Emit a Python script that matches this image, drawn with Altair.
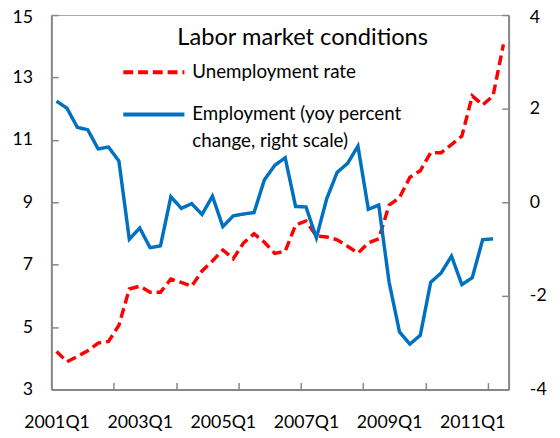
import altair as alt
import pandas as pd

quarters = [
    "2001Q1", "2001Q2", "2001Q3", "2001Q4", "2002Q1", "2002Q2", "2002Q3", "2002Q4",
    "2003Q1", "2003Q2", "2003Q3", "2003Q4", "2004Q1", "2004Q2", "2004Q3", "2004Q4",
    "2005Q1", "2005Q2", "2005Q3", "2005Q4", "2006Q1", "2006Q2", "2006Q3", "2006Q4",
    "2007Q1", "2007Q2", "2007Q3", "2007Q4", "2008Q1", "2008Q2", "2008Q3", "2008Q4",
    "2009Q1", "2009Q2", "2009Q3", "2009Q4", "2010Q1", "2010Q2", "2010Q3", "2010Q4",
    "2011Q1", "2011Q2", "2011Q3", "2011Q4",
]

unemployment = [
    4.22, 3.89, 4.06, 4.24, 4.49, 4.54, 5.06, 6.22, 6.31, 6.12, 6.12, 6.54,
    6.43, 6.31, 6.80, 7.12, 7.47, 7.19, 7.70, 7.99, 7.72, 7.36, 7.43, 8.27,
    8.40, 7.92, 7.89, 7.80, 7.59, 7.37, 7.70, 7.83, 8.91, 9.15, 9.80, 10.01,
    10.59, 10.59, 10.85, 11.12, 12.41, 12.12, 12.41, 14.06,
]

employment = [
    2.16, 2.01, 1.60, 1.55, 1.14, 1.18, 0.88, -0.79, -0.55, -0.97, -0.93, 0.12,
    -0.13, -0.03, -0.26, 0.13, -0.52, -0.29, -0.25, -0.22, 0.48, 0.79, 0.95, -0.09,
    -0.10, -0.76, 0.08, 0.64, 0.83, 1.20, -0.15, -0.06, -1.71, -2.77, -3.03, -2.84,
    -1.71, -1.51, -1.15, -1.76, -1.61, -0.80, -0.78,
]

chart_title = "Labor market conditions"
series_names = ["Unemployment rate", "Employment (yoy percent change, right scale)"]
series_colors = ["#FF0000", "#0070C0"]
label_positions = [0, 8, 16, 24, 32, 40]
tick_positions = [5.5, 11.5, 17.5, 23.5, 29.5, 35.5, 41.5]
left_ticks = [3, 5, 7, 9, 11, 13, 15]
right_ticks = [-4, -2, 0, 2, 4]

rows = []
for i, q in enumerate(quarters):
    rows.append({"idx": i, "quarter": q, "value": unemployment[i], "series": series_names[0]})
for i, v in enumerate(employment):
    rows.append({"idx": i, "quarter": quarters[i], "value": v, "series": series_names[1]})
df = pd.DataFrame(rows)

FONT = "Lato"
AX = "#868686"
W, H = 464, 380

xscale = alt.Scale(domain=[-0.5, 43.5], nice=False, zero=False)
left_scale = alt.Scale(domain=[3, 15], nice=False, zero=False)
right_scale = alt.Scale(domain=[-4, 4], nice=False, zero=False)

q_array = "[" + ",".join("'" + q + "'" for q in quarters) + "]"
x_label_expr = q_array + "[datum.value]"
hyphen_expr = "datum.value < 0 ? '-' + abs(datum.value) : '' + datum.value"

legend_label_expr = (
    "datum.label == '" + series_names[1] + "' ? "
    "['Employment (yoy percent', 'change, right scale)'] : datum.label"
)

legend = alt.Legend(
    title=None,
    orient="none",
    legendX=71,
    legendY=25,
    symbolType="stroke",
    symbolSize=3844,
    symbolStrokeWidth=4,
    labelFont=FONT,
    labelFontSize=19,
    labelColor="black",
    labelLimit=400,
    labelOffset=6,
    labelExpr=legend_label_expr,
    rowPadding=-9,
)

color = alt.Color("series:N", scale=alt.Scale(domain=series_names, range=series_colors), legend=legend)
dash = alt.StrokeDash("series:N", scale=alt.Scale(domain=series_names, range=[[10, 5], [1, 0]]), legend=legend)

base = alt.Chart(df)

red = base.transform_filter(alt.datum.series == series_names[0]).mark_line(
    strokeWidth=3.5, strokeCap="butt"
).encode(
    x=alt.X("idx:Q", scale=xscale, axis=alt.Axis(
        orient="bottom", values=label_positions, labelExpr=x_label_expr, ticks=False,
        grid=False, domainColor=AX, domainWidth=2, labelPadding=25, title=None)),
    y=alt.Y("value:Q", scale=left_scale, axis=alt.Axis(
        orient="left", values=left_ticks, ticks=False, grid=False,
        domainColor=AX, domainWidth=2, labelPadding=19, title=None,
        labelOffset={"condition": {"test": "datum.value == 15", "value": 3}, "value": 0})),
    color=color,
    strokeDash=dash,
)

blue = base.transform_filter(alt.datum.series == series_names[1]).mark_line(
    strokeWidth=3.5
).encode(
    x=alt.X("idx:Q", scale=xscale, axis=None),
    y=alt.Y("value:Q", scale=right_scale, axis=alt.Axis(
        orient="right", values=right_ticks, ticks=False, grid=False,
        domainColor=AX, domainWidth=2, labelPadding=21, title=None,
        labelExpr=hyphen_expr,
        labelOffset={"condition": {"test": "datum.value == 4", "value": 3}, "value": 0})),
    color=color,
    strokeDash=dash,
)

red_ticks = base.transform_filter(alt.datum.series == series_names[0]).mark_line(
    opacity=0
).encode(
    x=alt.X("idx:Q", scale=xscale, axis=alt.Axis(
        orient="top", offset=-H, values=tick_positions, labels=False, domain=False,
        tickSize=7, tickWidth=1.5, tickColor=AX, grid=False, title=None)),
    y=alt.Y("value:Q", scale=left_scale, axis=alt.Axis(
        orient="right", offset=-W, values=left_ticks, labels=False, domain=False,
        tickSize=7, tickWidth=1.5, tickColor=AX, grid=False, title=None)),
)

blue_ticks = base.transform_filter(alt.datum.series == series_names[1]).mark_line(
    opacity=0
).encode(
    x=alt.X("idx:Q", scale=xscale, axis=None),
    y=alt.Y("value:Q", scale=right_scale, axis=alt.Axis(
        orient="left", offset=-W, values=right_ticks, labels=False, domain=False,
        tickSize=7, tickWidth=1.5, tickColor=AX, grid=False, title=None)),
)

chart = alt.layer(red, blue, red_ticks, blue_ticks).resolve_scale(
    y="independent"
).resolve_axis(
    x="independent", y="independent"
).properties(
    title=alt.TitleParams(
        chart_title, anchor="middle", frame="group", orient="top",
        offset=-41, dx=23, font=FONT, fontSize=24, fontWeight="normal", color="black"),
    width=W,
    height=H,
    padding={"left": 44, "top": 4, "right": 44, "bottom": 42},
    autosize=alt.AutoSizeParams(type="none"),
).configure(
    style={"guide-label": {"lineHeight": 27}}
).configure_view(
    stroke="#A6A6A6", strokeWidth=1
).configure_axis(
    labelFont=FONT, labelFontSize=18, labelColor="black"
)

chart.save("out.html", embed_options={"renderer": "svg", "actions": False})
